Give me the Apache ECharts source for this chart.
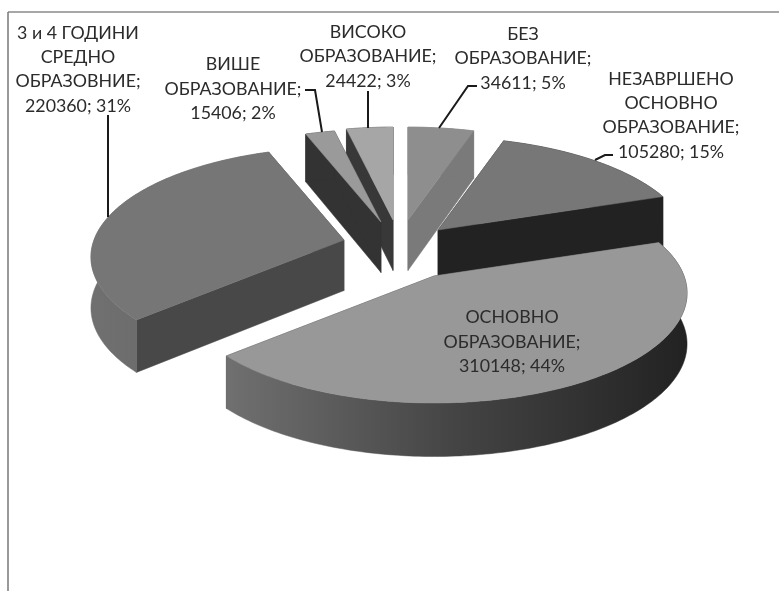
<!DOCTYPE html>
<html>
<head>
<meta charset="utf-8">
<style>html,body{margin:0;padding:0;background:#fff}#chart{width:779px;height:591px}</style>
<script src="https://cdn.jsdelivr.net/npm/echarts@6/dist/echarts.min.js"></script>
</head>
<body>
<div id="chart"></div>
<script>
// --- data, in clockwise order from 12 o'clock ---
const categories = [
  'БЕЗ\nОБРАЗОВАНИЕ;',
  'НЕЗАВРШЕНО\nОСНОВНО\nОБРАЗОВАНИЕ;',
  'ОСНОВНО\nОБРАЗОВАНИЕ;',
  '3 и 4 ГОДИНИ\nСРЕДНО\nОБРАЗОВНИЕ;',
  'ВИШЕ\nОБРАЗОВАНИЕ;',
  'ВИСОКО\nОБРАЗОВАНИЕ;'
];
const values = [34611, 105280, 310148, 220360, 15406, 24422];

// --- layout and style ---
const apexX = [408, 438, 434, 344, 381, 393];
const apexY = [220, 230, 276, 240, 222, 220];
const paintOrder = [2, 4, 5, 3, 1, 0];   // painting rank of each slice (back = 0)
const topColors  = ['#8e8e8e', '#777777', '#989898', '#767676', '#9a9a9a', '#a6a6a6'];
const wallColors = ['#7a7a7a', '#222222', '#3a3a3a', '#484848', '#333333', '#383838'];
const rimStops   = [null, null, ['#707070', '#444444', '#222222'], ['#707070', '#6a6a6a', '#666666'], null, null];
const labelX = [523, 671, 512, 78, 233, 368];
const labelY = [58.5, 115.5, 342, 69.5, 89, 56.5];
const leaderX = [[477, 468, 439], [613, 605, 595], null, [108, 108], [305, 315, 322], [368, 368]];
const leaderY = [[86, 86, 128], [155, 155, 160], null, [115, 217], [90, 90, 132], [91, 128]];
const RX = 250, RY = 107.3, PERSP = 0.155, DEPTH = 50.5, DEPTH_VAR = 3;

const total = values.reduce((a, b) => a + b, 0);

function project(i, deg) {
  const t = deg * Math.PI / 180;
  const u = Math.sin(t), v = -Math.cos(t), w = 1 - PERSP * v;
  return { x: apexX[i] + RX * u / w, y: apexY[i] + RY * v / w, h: DEPTH + DEPTH_VAR * v };
}
function poly(points, fill, z2) {
  return { type: 'polygon', z2, silent: true,
    shape: { points }, style: { fill, stroke: fill, lineWidth: 0.5 } };
}

function renderItem(params, api) {
  const i = params.dataIndex;
  const value = api.value(0);
  let before = 0;
  for (let k = 0; k < i; k++) before += values[k];
  const a0 = before / total * 360, a1 = (before + value) / total * 360;
  const rim = [];
  for (let d = a0; d < a1; d += 1) rim.push(project(i, d));
  rim.push(project(i, a1));
  const ax = apexX[i], ay = apexY[i], h = DEPTH, z = paintOrder[i] * 10 + 10;
  const first = rim[0], last = rim[rim.length - 1];
  const children = [];
  children.push(poly([[ax, ay], [first.x, first.y], [first.x, first.y + first.h], [ax, ay + h]], wallColors[i], z));
  children.push(poly([[ax, ay], [last.x, last.y], [last.x, last.y + last.h], [ax, ay + h]], wallColors[i], z + 1));
  const rimPts = rim.map(p => [p.x, p.y]).concat(rim.slice().reverse().map(p => [p.x, p.y + p.h]));
  let rimFill = wallColors[i];
  if (rimStops[i]) {
    rimFill = { type: 'linear', x: 0, y: 0, x2: 1, y2: 0, colorStops: [
      { offset: 0, color: rimStops[i][0] },
      { offset: 0.5, color: rimStops[i][1] },
      { offset: 1, color: rimStops[i][2] }
    ] };
  }
  children.push(poly(rimPts, rimFill, z + 2));
  children.push(poly([[ax, ay]].concat(rim.map(p => [p.x, p.y])), topColors[i], z + 3));

  if (leaderX[i]) {
    children.push({ type: 'polyline', z2: 900, silent: true,
      shape: { points: leaderX[i].map((x, n) => [x, leaderY[i][n]]) },
      style: { stroke: '#1a1a1a', lineWidth: 2, fill: null } });
  }
  const pct = Math.round(value / total * 100);
  children.push({ type: 'text', z2: 1000, silent: true, x: labelX[i], y: labelY[i],
    style: { text: categories[i] + '\n' + value + '; ' + pct + '%',
      fontFamily: 'Lato', fontSize: 17.8, lineHeight: 24.4, fill: '#2b2b2b',
      align: 'center', verticalAlign: 'middle' } });
  return { type: 'group', children };
}

const chart = echarts.init(document.getElementById('chart'), null, { renderer: 'canvas' });
chart.setOption({
  animation: false,
  backgroundColor: '#ffffff',
  graphic: [
    { type: 'line', silent: true, shape: { x1: 8, y1: 12, x2: 779, y2: 12 }, style: { stroke: '#8a8a8a', lineWidth: 1.5 } },
    { type: 'line', silent: true, shape: { x1: 8, y1: 12, x2: 8, y2: 591 }, style: { stroke: '#777777', lineWidth: 1.5 } }
  ],
  series: [{
    type: 'custom',
    coordinateSystem: 'none',
    renderItem,
    silent: true,
    data: values.map(v => [v])
  }]
});
</script>
</body>
</html>
